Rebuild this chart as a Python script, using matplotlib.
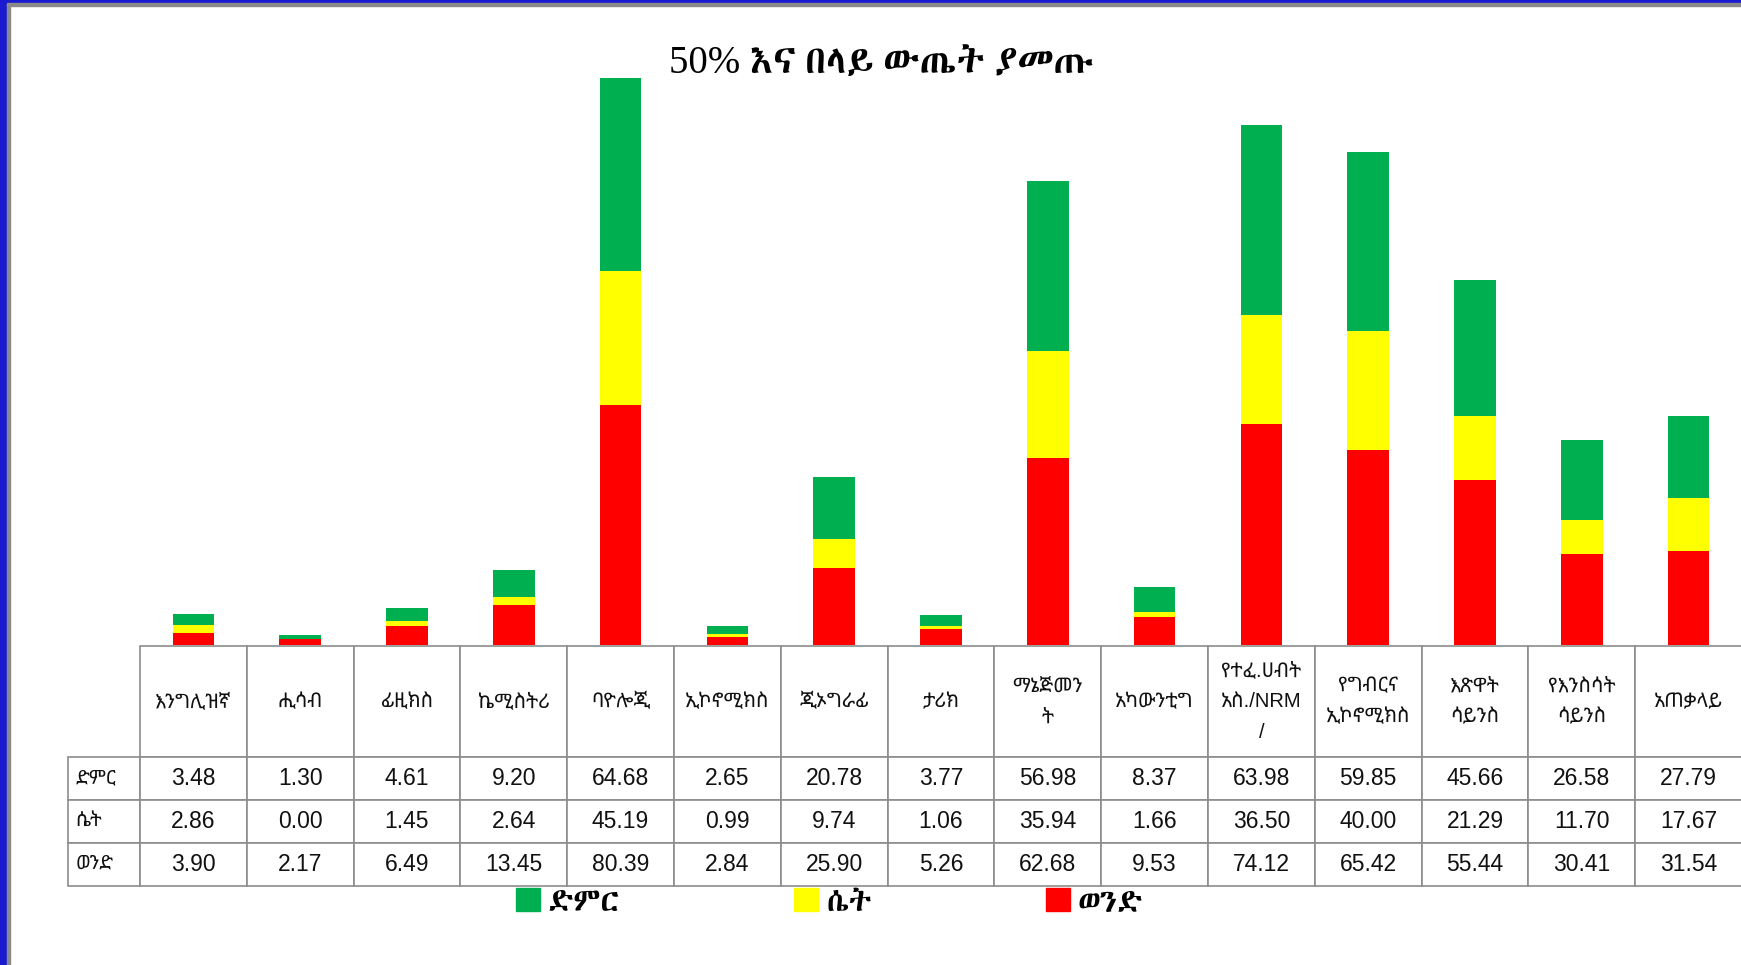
import matplotlib
matplotlib.use("Agg")
import matplotlib.pyplot as plt
from matplotlib.patches import Rectangle, Patch
from matplotlib.table import Table

# ርዕስና መለያዎች
title = "50% እና በላይ ውጤት ያመጡ"
categories = ["እንግሊዝኛ", "ሒሳብ", "ፊዚክስ", "ኬሚስትሪ", "ባዮሎጂ", "ኢኮኖሚክስ", "ጂኦግራፊ",
              "ታሪክ", "ማኔጅመን\nት", "አካውንቲግ", "የተፈ.ሀብት\nአስ./NRM\n/",
              "የግብርና\nኢኮኖሚክስ", "እጽዋት\nሳይንስ", "የእንስሳት\nሳይንስ", "አጠቃላይ"]
series_names = ["ድምር", "ሴት", "ወንድ"]

total = [3.48, 1.30, 4.61, 9.20, 64.68, 2.65, 20.78, 3.77, 56.98, 8.37, 63.98, 59.85, 45.66, 26.58, 27.79]
female = [2.86, 0.00, 1.45, 2.64, 45.19, 0.99, 9.74, 1.06, 35.94, 1.66, 36.50, 40.00, 21.29, 11.70, 17.67]
male = [3.90, 2.17, 6.49, 13.45, 80.39, 2.84, 25.90, 5.26, 62.68, 9.53, 74.12, 65.42, 55.44, 30.41, 31.54]

colors = {"ድምር": "#00B050", "ሴት": "#FFFF00", "ወንድ": "#FF0000"}

# ፎንቶች: ላቲን መጀመሪያ፣ ለግዕዝ ፊደል ወደ ቀጣዩ ይሄዳል
sans = ["Liberation Sans", "Noto Sans Ethiopic", "DejaVu Sans"]
serif = ["Liberation Serif", "Abyssinica SIL", "DejaVu Sans"]

W, H = 1741, 965
fig = plt.figure(figsize=(W / 100, H / 100), dpi=100)

# ሰማያዊ ጠርዝ
fig.patches.append(Rectangle((0, 0), 7 / W, 1, transform=fig.transFigure, color="#1a1ad0", zorder=10))
fig.patches.append(Rectangle((7 / W, 0), 3 / W, 1 - 3 / H, transform=fig.transFigure, color="#8a8a8a", zorder=10))
fig.patches.append(Rectangle((0, 1 - 3 / H), 1, 3 / H, transform=fig.transFigure, color="#1a1ad0", zorder=10))
fig.patches.append(Rectangle((7 / W, 1 - 6 / H), 1, 3 / H, transform=fig.transFigure, color="#8a8a8a", zorder=10))

ax_left, ax_right = 140, 1742
base_y, top_y = 645, 49
ax = fig.add_axes([ax_left / W, 1 - base_y / H, (ax_right - ax_left) / W, (base_y - top_y) / H])

x = list(range(len(categories)))
bw = 0.39
ax.bar(x, male, bw, color=colors["ወንድ"], label="ወንድ")
ax.bar(x, female, bw, bottom=male, color=colors["ሴት"], label="ሴት")
bottom2 = [m + f for m, f in zip(male, female)]
ax.bar(x, total, bw, bottom=bottom2, color=colors["ድምር"], label="ድምር")
ax.set_xlim(-0.5, len(categories) - 0.5)
ax.set_ylim(0, 200)
ax.set_xticks([])
ax.set_yticks([])
for s in ax.spines.values():
    s.set_visible(False)

# የመረጃ ሰንጠረዥ
span = ax_right - ax_left
tb_left, tb_top, tb_bot = 68, 646, 886
bbox = [(tb_left - ax_left) / span, (base_y - tb_bot) / (base_y - top_y),
        (ax_right - tb_left) / span, (tb_bot - tb_top) / (base_y - top_y)]
tbl = Table(ax, bbox=bbox)
tbl.auto_set_font_size(False)
for j, cat in enumerate(categories):
    tbl.add_cell(0, j + 1, width=106.8, height=111, text=cat, loc="center")
for i, (name, row) in enumerate(zip(series_names, (total, female, male))):
    tbl.add_cell(i + 1, 0, width=72, height=42.7, text=name, loc="left")
    for j, v in enumerate(row):
        tbl.add_cell(i + 1, j + 1, width=106.8, height=42.7, text=f"{v:.2f}", loc="center")
for (r, c), cell in tbl.get_celld().items():
    cell.set_edgecolor("#8c8c8c")
    cell.set_linewidth(1.2)
    t = cell.get_text()
    t.set_family(sans)
    t.set_color("#111111")
    if r == 0:
        t.set_fontsize(14.5)
        t.set_linespacing(1.8)
    elif c == 0:
        t.set_fontsize(14)
    else:
        t.set_fontsize(16.5)
ax.add_table(tbl)

fig.text(881 / W, 1 - 64 / H, title, ha="center", va="center", fontsize=28, family=serif)

handles = [Patch(color=colors[n], label=n) for n in series_names]
fig.legend(handles=handles, loc="center", bbox_to_anchor=(830 / W, 1 - 903 / H), ncol=3,
           frameon=False, prop={"family": serif, "size": 23}, handlelength=0.75,
           handleheight=0.72, handletextpad=0.25, columnspacing=5.45,
           borderpad=0, borderaxespad=0)

fig.savefig("out.png", dpi=100)
